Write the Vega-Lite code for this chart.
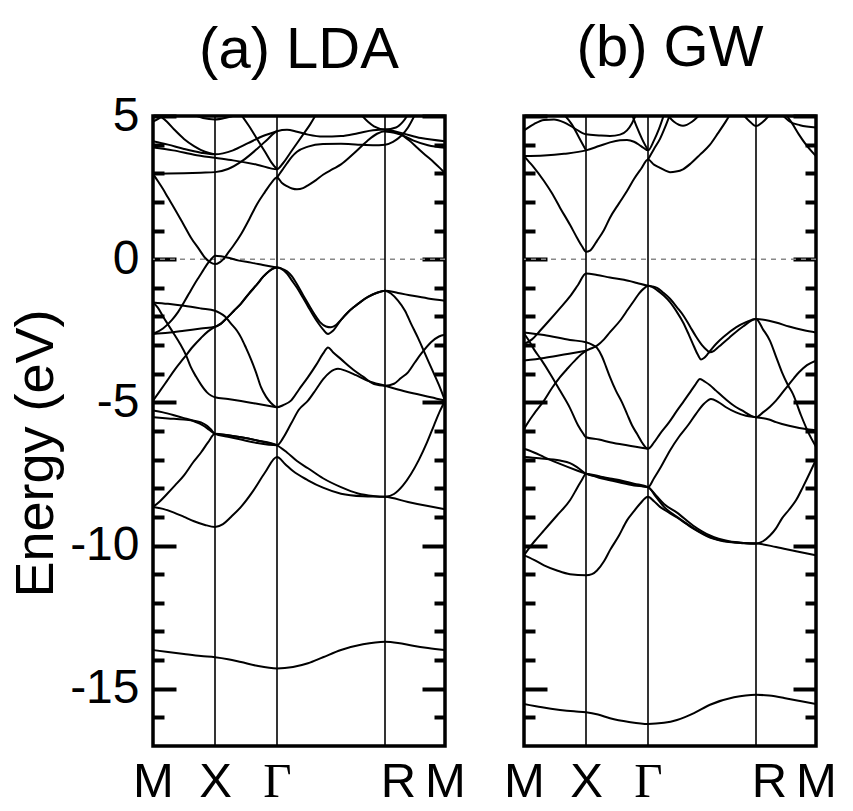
{
"$schema": "https://vega.github.io/schema/vega-lite/v6.json",
"background": "white",
"padding": {"left": 7, "top": 18, "right": 10, "bottom": 5},
"datasets": {
"sym": [{"k": 62}, {"k": 124}, {"k": 232}],
"lda": [
{"b":"core","k":0,"e":-13.65},{"b":"core","k":15,"e":-13.72},{"b":"core","k":31,"e":-13.79},{"b":"core","k":48,"e":-13.86},{"b":"core","k":62,"e":-13.9},{"b":"core","k":75,"e":-13.97},{"b":"core","k":88,"e":-14.07},{"b":"core","k":104,"e":-14.2},{"b":"core","k":124,"e":-14.29},{"b":"core","k":140,"e":-14.24},{"b":"core","k":155,"e":-14.11},{"b":"core","k":170,"e":-13.9},{"b":"core","k":188,"e":-13.65},{"b":"core","k":210,"e":-13.45},{"b":"core","k":232,"e":-13.36},{"b":"core","k":245,"e":-13.4},{"b":"core","k":260,"e":-13.5},{"b":"core","k":275,"e":-13.58},{"b":"core","k":292,"e":-13.65},
{"b":"P2","k":0,"e":-8.65},{"b":"P2","k":10,"e":-8.72},{"b":"P2","k":21,"e":-8.85},{"b":"P2","k":31,"e":-9.0},{"b":"P2","k":41,"e":-9.15},{"b":"P2","k":52,"e":-9.28},{"b":"P2","k":62,"e":-9.35},{"b":"P2","k":70,"e":-9.25},{"b":"P2","k":78,"e":-9.0},{"b":"P2","k":88,"e":-8.65},{"b":"P2","k":100,"e":-8.1},{"b":"P2","k":112,"e":-7.45},{"b":"P2","k":124,"e":-6.91},{"b":"P2","k":132,"e":-7.15},{"b":"P2","k":140,"e":-7.4},{"b":"P2","k":155,"e":-7.72},{"b":"P2","k":170,"e":-7.98},{"b":"P2","k":188,"e":-8.19},{"b":"P2","k":210,"e":-8.28},{"b":"P2","k":232,"e":-8.3},{"b":"P2","k":255,"e":-8.48},{"b":"P2","k":275,"e":-8.62},{"b":"P2","k":292,"e":-8.73},
{"b":"P3","k":0,"e":-8.65},{"b":"P3","k":7,"e":-8.45},{"b":"P3","k":14,"e":-8.2},{"b":"P3","k":22,"e":-7.9},{"b":"P3","k":31,"e":-7.55},{"b":"P3","k":40,"e":-7.1},{"b":"P3","k":48,"e":-6.75},{"b":"P3","k":55,"e":-6.4},{"b":"P3","k":62,"e":-6.1},{"b":"P3","k":75,"e":-6.15},{"b":"P3","k":88,"e":-6.22},{"b":"P3","k":104,"e":-6.33},{"b":"P3","k":124,"e":-6.5},{"b":"P3","k":134,"e":-6.75},{"b":"P3","k":144,"e":-7.05},{"b":"P3","k":155,"e":-7.3},{"b":"P3","k":170,"e":-7.65},{"b":"P3","k":188,"e":-7.96},{"b":"P3","k":205,"e":-8.18},{"b":"P3","k":220,"e":-8.27},{"b":"P3","k":232,"e":-8.3},{"b":"P3","k":241,"e":-8.2},{"b":"P3","k":250,"e":-7.9},{"b":"P3","k":258,"e":-7.5},{"b":"P3","k":266,"e":-7.0},{"b":"P3","k":274,"e":-6.4},{"b":"P3","k":281,"e":-5.8},{"b":"P3","k":287,"e":-5.3},{"b":"P3","k":292,"e":-4.94},
{"b":"P4","k":0,"e":-5.28},{"b":"P4","k":10,"e":-5.35},{"b":"P4","k":21,"e":-5.45},{"b":"P4","k":31,"e":-5.55},{"b":"P4","k":41,"e":-5.66},{"b":"P4","k":50,"e":-5.8},{"b":"P4","k":56,"e":-5.95},{"b":"P4","k":62,"e":-6.1},{"b":"P4","k":75,"e":-6.2},{"b":"P4","k":88,"e":-6.3},{"b":"P4","k":104,"e":-6.42},{"b":"P4","k":124,"e":-6.5},{"b":"P4","k":130,"e":-6.25},{"b":"P4","k":138,"e":-5.75},{"b":"P4","k":146,"e":-5.25},{"b":"P4","k":155,"e":-4.94},{"b":"P4","k":163,"e":-4.55},{"b":"P4","k":170,"e":-4.2},{"b":"P4","k":177,"e":-3.95},{"b":"P4","k":185,"e":-3.83},{"b":"P4","k":193,"e":-3.9},{"b":"P4","k":203,"e":-4.05},{"b":"P4","k":215,"e":-4.25},{"b":"P4","k":232,"e":-4.42},{"b":"P4","k":245,"e":-4.55},{"b":"P4","k":260,"e":-4.68},{"b":"P4","k":278,"e":-4.82},{"b":"P4","k":292,"e":-4.94},
{"b":"P5","k":0,"e":-5.52},{"b":"P5","k":15,"e":-5.56},{"b":"P5","k":31,"e":-5.6},{"b":"P5","k":41,"e":-5.64},{"b":"P5","k":48,"e":-5.7},{"b":"P5","k":54,"e":-5.82},{"b":"P5","k":58,"e":-5.95},{"b":"P5","k":62,"e":-6.1},{"b":"P5","k":75,"e":-6.15},{"b":"P5","k":88,"e":-6.22},{"b":"P5","k":104,"e":-6.33},{"b":"P5","k":124,"e":-6.5},
{"b":"P6","k":0,"e":-4.94},{"b":"P6","k":7,"e":-4.6},{"b":"P6","k":14,"e":-4.25},{"b":"P6","k":22,"e":-3.85},{"b":"P6","k":31,"e":-3.45},{"b":"P6","k":40,"e":-3.05},{"b":"P6","k":48,"e":-2.75},{"b":"P6","k":55,"e":-2.52},{"b":"P6","k":62,"e":-2.36},{"b":"P6","k":68,"e":-2.25},{"b":"P6","k":74,"e":-2.05},{"b":"P6","k":81,"e":-1.8},{"b":"P6","k":88,"e":-1.55},{"b":"P6","k":96,"e":-1.2},{"b":"P6","k":104,"e":-0.88},{"b":"P6","k":110,"e":-0.62},{"b":"P6","k":116,"e":-0.42},{"b":"P6","k":120,"e":-0.33},{"b":"P6","k":124,"e":-0.29},{"b":"P6","k":128,"e":-0.33},{"b":"P6","k":134,"e":-0.5},{"b":"P6","k":139,"e":-0.75},{"b":"P6","k":144,"e":-1.0},{"b":"P6","k":150,"e":-1.35},{"b":"P6","k":155,"e":-1.65},{"b":"P6","k":160,"e":-1.95},{"b":"P6","k":165,"e":-2.22},{"b":"P6","k":170,"e":-2.45},{"b":"P6","k":175,"e":-2.61},{"b":"P6","k":180,"e":-2.5},{"b":"P6","k":188,"e":-2.12},{"b":"P6","k":195,"e":-1.85},{"b":"P6","k":201,"e":-1.67},{"b":"P6","k":208,"e":-1.48},{"b":"P6","k":215,"e":-1.32},{"b":"P6","k":224,"e":-1.17},{"b":"P6","k":232,"e":-1.1},{"b":"P6","k":245,"e":-1.18},{"b":"P6","k":260,"e":-1.28},{"b":"P6","k":275,"e":-1.37},{"b":"P6","k":292,"e":-1.45},
{"b":"P7","k":0,"e":-2.61},{"b":"P7","k":15,"e":-2.57},{"b":"P7","k":31,"e":-2.5},{"b":"P7","k":48,"e":-2.42},{"b":"P7","k":62,"e":-2.36},{"b":"P7","k":68,"e":-2.25},{"b":"P7","k":74,"e":-2.05},{"b":"P7","k":81,"e":-1.8},{"b":"P7","k":88,"e":-1.55},{"b":"P7","k":96,"e":-1.2},{"b":"P7","k":104,"e":-0.88},{"b":"P7","k":110,"e":-0.62},{"b":"P7","k":116,"e":-0.42},{"b":"P7","k":120,"e":-0.33},{"b":"P7","k":124,"e":-0.29},{"b":"P7","k":128,"e":-0.32},{"b":"P7","k":134,"e":-0.42},{"b":"P7","k":139,"e":-0.6},{"b":"P7","k":144,"e":-0.88},{"b":"P7","k":150,"e":-1.25},{"b":"P7","k":155,"e":-1.55},{"b":"P7","k":161,"e":-1.9},{"b":"P7","k":167,"e":-2.2},{"b":"P7","k":173,"e":-2.35},{"b":"P7","k":178,"e":-2.38},{"b":"P7","k":183,"e":-2.3},{"b":"P7","k":188,"e":-2.12},{"b":"P7","k":195,"e":-1.85},{"b":"P7","k":201,"e":-1.67},{"b":"P7","k":208,"e":-1.48},{"b":"P7","k":215,"e":-1.32},{"b":"P7","k":224,"e":-1.17},{"b":"P7","k":232,"e":-1.1},{"b":"P7","k":238,"e":-1.2},{"b":"P7","k":245,"e":-1.45},{"b":"P7","k":252,"e":-1.8},{"b":"P7","k":258,"e":-2.25},{"b":"P7","k":265,"e":-2.75},{"b":"P7","k":272,"e":-3.3},{"b":"P7","k":279,"e":-3.85},{"b":"P7","k":286,"e":-4.4},{"b":"P7","k":292,"e":-4.94},
{"b":"P8","k":0,"e":-1.51},{"b":"P8","k":15,"e":-1.56},{"b":"P8","k":31,"e":-1.63},{"b":"P8","k":48,"e":-1.72},{"b":"P8","k":62,"e":-1.8},{"b":"P8","k":67,"e":-1.88},{"b":"P8","k":72,"e":-2.0},{"b":"P8","k":78,"e":-2.25},{"b":"P8","k":84,"e":-2.5},{"b":"P8","k":88,"e":-2.73},{"b":"P8","k":93,"e":-3.1},{"b":"P8","k":98,"e":-3.5},{"b":"P8","k":103,"e":-3.95},{"b":"P8","k":108,"e":-4.47},{"b":"P8","k":113,"e":-4.8},{"b":"P8","k":118,"e":-5.02},{"b":"P8","k":124,"e":-5.17},{"b":"P8","k":130,"e":-5.1},{"b":"P8","k":138,"e":-4.94},{"b":"P8","k":146,"e":-4.55},{"b":"P8","k":155,"e":-4.12},{"b":"P8","k":163,"e":-3.7},{"b":"P8","k":170,"e":-3.3},{"b":"P8","k":175,"e":-3.08},{"b":"P8","k":180,"e":-3.25},{"b":"P8","k":188,"e":-3.49},{"b":"P8","k":200,"e":-3.85},{"b":"P8","k":210,"e":-4.1},{"b":"P8","k":221,"e":-4.36},{"b":"P8","k":232,"e":-4.42},{"b":"P8","k":241,"e":-4.35},{"b":"P8","k":248,"e":-4.15},{"b":"P8","k":255,"e":-3.95},{"b":"P8","k":262,"e":-3.6},{"b":"P8","k":268,"e":-3.31},{"b":"P8","k":278,"e":-2.9},{"b":"P8","k":286,"e":-2.7},{"b":"P8","k":292,"e":-2.64},
{"b":"P9","k":0,"e":-1.51},{"b":"P9","k":5,"e":-1.7},{"b":"P9","k":10,"e":-2.0},{"b":"P9","k":15,"e":-2.28},{"b":"P9","k":21,"e":-2.61},{"b":"P9","k":27,"e":-2.95},{"b":"P9","k":33,"e":-3.35},{"b":"P9","k":38,"e":-3.78},{"b":"P9","k":43,"e":-4.1},{"b":"P9","k":48,"e":-4.38},{"b":"P9","k":54,"e":-4.65},{"b":"P9","k":58,"e":-4.76},{"b":"P9","k":62,"e":-4.82},{"b":"P9","k":75,"e":-4.88},{"b":"P9","k":88,"e":-4.95},{"b":"P9","k":104,"e":-5.05},{"b":"P9","k":124,"e":-5.17},
{"b":"P10","k":0,"e":-2.61},{"b":"P10","k":10,"e":-2.42},{"b":"P10","k":19,"e":-2.12},{"b":"P10","k":25,"e":-1.85},{"b":"P10","k":31,"e":-1.5},{"b":"P10","k":36,"e":-1.2},{"b":"P10","k":41,"e":-0.9},{"b":"P10","k":46,"e":-0.62},{"b":"P10","k":50,"e":-0.4},{"b":"P10","k":54,"e":-0.18},{"b":"P10","k":58,"e":-0.01},{"b":"P10","k":62,"e":0.12},{"b":"P10","k":68,"e":0.1},{"b":"P10","k":74,"e":0.06},{"b":"P10","k":86,"e":-0.05},{"b":"P10","k":98,"e":-0.12},{"b":"P10","k":110,"e":-0.2},{"b":"P10","k":124,"e":-0.29},
{"b":"C1","k":0,"e":2.98},{"b":"C1","k":5,"e":2.72},{"b":"C1","k":10,"e":2.45},{"b":"C1","k":15,"e":2.15},{"b":"C1","k":21,"e":1.8},{"b":"C1","k":30,"e":1.25},{"b":"C1","k":38,"e":0.75},{"b":"C1","k":46,"e":0.35},{"b":"C1","k":52,"e":0.05},{"b":"C1","k":57,"e":-0.1},{"b":"C1","k":62,"e":-0.17},{"b":"C1","k":67,"e":-0.1},{"b":"C1","k":71,"e":0.02},{"b":"C1","k":74,"e":0.17},{"b":"C1","k":80,"e":0.45},{"b":"C1","k":88,"e":0.87},{"b":"C1","k":96,"e":1.38},{"b":"C1","k":104,"e":1.92},{"b":"C1","k":112,"e":2.35},{"b":"C1","k":118,"e":2.65},{"b":"C1","k":124,"e":2.85},{"b":"C1","k":129,"e":2.66},{"b":"C1","k":134,"e":2.55},{"b":"C1","k":139,"e":2.47},{"b":"C1","k":144,"e":2.44},{"b":"C1","k":150,"e":2.48},{"b":"C1","k":155,"e":2.58},{"b":"C1","k":163,"e":2.76},{"b":"C1","k":170,"e":2.95},{"b":"C1","k":180,"e":3.15},{"b":"C1","k":188,"e":3.31},{"b":"C1","k":201,"e":3.7},{"b":"C1","k":214,"e":4.12},{"b":"C1","k":224,"e":4.38},{"b":"C1","k":232,"e":4.47},{"b":"C1","k":240,"e":4.45},{"b":"C1","k":248,"e":4.35},{"b":"C1","k":256,"e":4.15},{"b":"C1","k":264,"e":3.9},{"b":"C1","k":272,"e":3.65},{"b":"C1","k":281,"e":3.38},{"b":"C1","k":287,"e":3.18},{"b":"C1","k":292,"e":3.0},
{"b":"C2","k":0,"e":2.98},{"b":"C2","k":15,"e":2.99},{"b":"C2","k":31,"e":3.0},{"b":"C2","k":48,"e":3.02},{"b":"C2","k":62,"e":3.04},{"b":"C2","k":75,"e":3.15},{"b":"C2","k":90,"e":3.45},{"b":"C2","k":104,"e":3.85},{"b":"C2","k":115,"e":4.2},{"b":"C2","k":124,"e":4.47},{"b":"C2","k":134,"e":4.52},{"b":"C2","k":144,"e":4.45},{"b":"C2","k":155,"e":4.35},{"b":"C2","k":170,"e":4.28},{"b":"C2","k":188,"e":4.3},{"b":"C2","k":205,"e":4.4},{"b":"C2","k":220,"e":4.5},{"b":"C2","k":232,"e":4.53},{"b":"C2","k":248,"e":4.41},{"b":"C2","k":268,"e":4.23},{"b":"C2","k":292,"e":4.12},
{"b":"C3","k":124,"e":2.85},{"b":"C3","k":129,"e":3.1},{"b":"C3","k":134,"e":3.35},{"b":"C3","k":139,"e":3.58},{"b":"C3","k":144,"e":3.75},{"b":"C3","k":155,"e":3.93},{"b":"C3","k":170,"e":4.02},{"b":"C3","k":188,"e":4.03},{"b":"C3","k":205,"e":4.0},{"b":"C3","k":220,"e":3.98},{"b":"C3","k":232,"e":4.0},{"b":"C3","k":240,"e":4.1},{"b":"C3","k":248,"e":4.3},{"b":"C3","k":255,"e":4.6},{"b":"C3","k":262,"e":5.05},
{"b":"C4","k":0,"e":3.9},{"b":"C4","k":20,"e":3.8},{"b":"C4","k":41,"e":3.65},{"b":"C4","k":62,"e":3.54},{"b":"C4","k":80,"e":3.45},{"b":"C4","k":104,"e":3.3},{"b":"C4","k":124,"e":3.14},{"b":"C4","k":130,"e":3.35},{"b":"C4","k":137,"e":3.7},{"b":"C4","k":144,"e":4.05},{"b":"C4","k":150,"e":4.35},{"b":"C4","k":157,"e":4.7},{"b":"C4","k":163,"e":5.05},
{"b":"C5","k":88,"e":5.05},{"b":"C5","k":96,"e":4.65},{"b":"C5","k":104,"e":4.2},{"b":"C5","k":112,"e":3.75},{"b":"C5","k":118,"e":3.4},{"b":"C5","k":124,"e":3.14},
{"b":"C6","k":0,"e":4.12},{"b":"C6","k":15,"e":4.0},{"b":"C6","k":31,"e":3.85},{"b":"C6","k":48,"e":3.72},{"b":"C6","k":62,"e":3.66},{"b":"C6","k":80,"e":3.8},{"b":"C6","k":95,"e":4.05},{"b":"C6","k":110,"e":4.3},{"b":"C6","k":124,"e":4.47},
{"b":"C7","k":5,"e":5.05},{"b":"C7","k":14,"e":4.8},{"b":"C7","k":22,"e":4.5},{"b":"C7","k":31,"e":4.2},{"b":"C7","k":41,"e":3.95},{"b":"C7","k":52,"e":3.75},{"b":"C7","k":62,"e":3.66},
{"b":"C8","k":0,"e":4.8},{"b":"C8","k":6,"e":4.92},{"b":"C8","k":12,"e":5.05},
{"b":"C9","k":208,"e":5.05},{"b":"C9","k":215,"e":4.8},{"b":"C9","k":221,"e":4.64},{"b":"C9","k":232,"e":4.53},{"b":"C9","k":243,"e":4.6},{"b":"C9","k":250,"e":4.8},{"b":"C9","k":255,"e":5.05},
{"b":"C10","k":232,"e":4.47},{"b":"C10","k":248,"e":4.35},{"b":"C10","k":260,"e":4.15},{"b":"C10","k":275,"e":3.98},{"b":"C10","k":292,"e":3.89},
{"b":"C11","k":40,"e":5.05},{"b":"C11","k":50,"e":4.93},{"b":"C11","k":62,"e":4.88},{"b":"C11","k":74,"e":4.95},{"b":"C11","k":85,"e":5.05}
],
"gw": [
{"b":"core","k":0,"e":-15.53},{"b":"core","k":18,"e":-15.65},{"b":"core","k":36,"e":-15.74},{"b":"core","k":50,"e":-15.79},{"b":"core","k":62,"e":-15.82},{"b":"core","k":74,"e":-15.9},{"b":"core","k":86,"e":-16.03},{"b":"core","k":105,"e":-16.16},{"b":"core","k":124,"e":-16.23},{"b":"core","k":140,"e":-16.19},{"b":"core","k":153,"e":-16.09},{"b":"core","k":170,"e":-15.85},{"b":"core","k":186,"e":-15.56},{"b":"core","k":210,"e":-15.3},{"b":"core","k":232,"e":-15.21},{"b":"core","k":245,"e":-15.24},{"b":"core","k":260,"e":-15.32},{"b":"core","k":276,"e":-15.43},{"b":"core","k":292,"e":-15.53},
{"b":"G2","k":0,"e":-10.34},{"b":"G2","k":10,"e":-10.5},{"b":"G2","k":20,"e":-10.69},{"b":"G2","k":33,"e":-10.87},{"b":"G2","k":46,"e":-11.0},{"b":"G2","k":62,"e":-11.04},{"b":"G2","k":68,"e":-11.0},{"b":"G2","k":73,"e":-10.87},{"b":"G2","k":80,"e":-10.55},{"b":"G2","k":86,"e":-10.16},{"b":"G2","k":95,"e":-9.65},{"b":"G2","k":103,"e":-9.12},{"b":"G2","k":110,"e":-8.8},{"b":"G2","k":116,"e":-8.54},{"b":"G2","k":124,"e":-8.3},{"b":"G2","k":130,"e":-8.45},{"b":"G2","k":136,"e":-8.65},{"b":"G2","k":145,"e":-8.85},{"b":"G2","k":153,"e":-9.02},{"b":"G2","k":169,"e":-9.4},{"b":"G2","k":186,"e":-9.72},{"b":"G2","k":205,"e":-9.88},{"b":"G2","k":220,"e":-9.92},{"b":"G2","k":232,"e":-9.93},{"b":"G2","k":252,"e":-10.05},{"b":"G2","k":272,"e":-10.2},{"b":"G2","k":292,"e":-10.34},
{"b":"G3","k":0,"e":-10.34},{"b":"G3","k":7,"e":-10.0},{"b":"G3","k":13,"e":-9.75},{"b":"G3","k":20,"e":-9.47},{"b":"G3","k":33,"e":-8.95},{"b":"G3","k":46,"e":-8.42},{"b":"G3","k":53,"e":-8.0},{"b":"G3","k":58,"e":-7.7},{"b":"G3","k":62,"e":-7.49},{"b":"G3","k":75,"e":-7.58},{"b":"G3","k":86,"e":-7.66},{"b":"G3","k":96,"e":-7.72},{"b":"G3","k":110,"e":-7.84},{"b":"G3","k":124,"e":-7.96},{"b":"G3","k":132,"e":-8.25},{"b":"G3","k":140,"e":-8.55},{"b":"G3","k":153,"e":-8.85},{"b":"G3","k":169,"e":-9.3},{"b":"G3","k":186,"e":-9.65},{"b":"G3","k":205,"e":-9.85},{"b":"G3","k":220,"e":-9.91},{"b":"G3","k":232,"e":-9.93},{"b":"G3","k":239,"e":-9.85},{"b":"G3","k":246,"e":-9.65},{"b":"G3","k":252,"e":-9.4},{"b":"G3","k":258,"e":-9.05},{"b":"G3","k":265,"e":-8.75},{"b":"G3","k":272,"e":-8.42},{"b":"G3","k":279,"e":-7.95},{"b":"G3","k":286,"e":-7.45},{"b":"G3","k":292,"e":-7.0},
{"b":"G4","k":0,"e":-6.91},{"b":"G4","k":15,"e":-6.95},{"b":"G4","k":36,"e":-7.03},{"b":"G4","k":46,"e":-7.12},{"b":"G4","k":53,"e":-7.26},{"b":"G4","k":62,"e":-7.49},{"b":"G4","k":75,"e":-7.6},{"b":"G4","k":86,"e":-7.68},{"b":"G4","k":96,"e":-7.75},{"b":"G4","k":110,"e":-7.86},{"b":"G4","k":124,"e":-7.96},{"b":"G4","k":130,"e":-7.65},{"b":"G4","k":137,"e":-7.25},{"b":"G4","k":146,"e":-6.68},{"b":"G4","k":155,"e":-6.2},{"b":"G4","k":164,"e":-5.8},{"b":"G4","k":172,"e":-5.4},{"b":"G4","k":180,"e":-5.05},{"b":"G4","k":187,"e":-4.88},{"b":"G4","k":194,"e":-4.98},{"b":"G4","k":202,"e":-5.17},{"b":"G4","k":212,"e":-5.35},{"b":"G4","k":222,"e":-5.47},{"b":"G4","k":232,"e":-5.52},{"b":"G4","k":245,"e":-5.6},{"b":"G4","k":252,"e":-5.69},{"b":"G4","k":265,"e":-5.82},{"b":"G4","k":285,"e":-5.95},{"b":"G4","k":292,"e":-5.97},
{"b":"G5","k":0,"e":-6.62},{"b":"G5","k":10,"e":-6.75},{"b":"G5","k":20,"e":-6.91},{"b":"G5","k":36,"e":-7.15},{"b":"G5","k":53,"e":-7.38},{"b":"G5","k":62,"e":-7.49},{"b":"G5","k":75,"e":-7.63},{"b":"G5","k":86,"e":-7.72},{"b":"G5","k":96,"e":-7.8},{"b":"G5","k":110,"e":-7.9},{"b":"G5","k":124,"e":-7.96},{"b":"G5","k":132,"e":-8.3},{"b":"G5","k":140,"e":-8.65},{"b":"G5","k":153,"e":-9.0},{"b":"G5","k":169,"e":-9.38},{"b":"G5","k":186,"e":-9.7},{"b":"G5","k":205,"e":-9.87},{"b":"G5","k":232,"e":-9.93},
{"b":"G6","k":0,"e":-5.93},{"b":"G6","k":5,"e":-5.65},{"b":"G6","k":10,"e":-5.4},{"b":"G6","k":20,"e":-4.94},{"b":"G6","k":28,"e":-4.5},{"b":"G6","k":36,"e":-4.12},{"b":"G6","k":44,"e":-3.8},{"b":"G6","k":52,"e":-3.5},{"b":"G6","k":57,"e":-3.33},{"b":"G6","k":62,"e":-3.2},{"b":"G6","k":67,"e":-3.12},{"b":"G6","k":73,"e":-3.02},{"b":"G6","k":80,"e":-2.8},{"b":"G6","k":86,"e":-2.55},{"b":"G6","k":96,"e":-2.15},{"b":"G6","k":104,"e":-1.75},{"b":"G6","k":110,"e":-1.45},{"b":"G6","k":115,"e":-1.2},{"b":"G6","k":120,"e":-1.02},{"b":"G6","k":124,"e":-0.93},{"b":"G6","k":128,"e":-0.97},{"b":"G6","k":133,"e":-1.08},{"b":"G6","k":140,"e":-1.28},{"b":"G6","k":146,"e":-1.5},{"b":"G6","k":153,"e":-1.85},{"b":"G6","k":159,"e":-2.2},{"b":"G6","k":165,"e":-2.65},{"b":"G6","k":170,"e":-3.05},{"b":"G6","k":174,"e":-3.35},{"b":"G6","k":177,"e":-3.5},{"b":"G6","k":180,"e":-3.45},{"b":"G6","k":184,"e":-3.3},{"b":"G6","k":188,"e":-3.12},{"b":"G6","k":192,"e":-2.96},{"b":"G6","k":200,"e":-2.7},{"b":"G6","k":212,"e":-2.38},{"b":"G6","k":222,"e":-2.2},{"b":"G6","k":232,"e":-2.09},{"b":"G6","k":245,"e":-2.15},{"b":"G6","k":252,"e":-2.21},{"b":"G6","k":265,"e":-2.35},{"b":"G6","k":280,"e":-2.48},{"b":"G6","k":292,"e":-2.56},
{"b":"G7","k":0,"e":-2.56},{"b":"G7","k":20,"e":-2.65},{"b":"G7","k":46,"e":-2.82},{"b":"G7","k":62,"e":-2.9},{"b":"G7","k":68,"e":-2.98},{"b":"G7","k":73,"e":-3.1},{"b":"G7","k":78,"e":-3.4},{"b":"G7","k":82,"e":-3.75},{"b":"G7","k":86,"e":-4.12},{"b":"G7","k":92,"e":-4.6},{"b":"G7","k":98,"e":-5.0},{"b":"G7","k":103,"e":-5.4},{"b":"G7","k":108,"e":-5.8},{"b":"G7","k":113,"e":-6.1},{"b":"G7","k":118,"e":-6.4},{"b":"G7","k":124,"e":-6.62},{"b":"G7","k":130,"e":-6.4},{"b":"G7","k":136,"e":-6.1},{"b":"G7","k":145,"e":-5.7},{"b":"G7","k":153,"e":-5.29},{"b":"G7","k":160,"e":-4.95},{"b":"G7","k":166,"e":-4.65},{"b":"G7","k":171,"e":-4.4},{"b":"G7","k":176,"e":-4.18},{"b":"G7","k":181,"e":-4.28},{"b":"G7","k":186,"e":-4.4},{"b":"G7","k":192,"e":-4.59},{"b":"G7","k":202,"e":-4.9},{"b":"G7","k":210,"e":-5.12},{"b":"G7","k":219,"e":-5.3},{"b":"G7","k":226,"e":-5.45},{"b":"G7","k":232,"e":-5.52},{"b":"G7","k":239,"e":-5.35},{"b":"G7","k":246,"e":-5.15},{"b":"G7","k":252,"e":-4.94},{"b":"G7","k":262,"e":-4.5},{"b":"G7","k":270,"e":-4.15},{"b":"G7","k":275,"e":-3.95},{"b":"G7","k":283,"e":-3.7},{"b":"G7","k":292,"e":-3.54},
{"b":"G8","k":0,"e":-2.6},{"b":"G8","k":5,"e":-2.85},{"b":"G8","k":10,"e":-3.15},{"b":"G8","k":17,"e":-3.5},{"b":"G8","k":27,"e":-4.05},{"b":"G8","k":36,"e":-4.59},{"b":"G8","k":46,"e":-5.2},{"b":"G8","k":54,"e":-5.8},{"b":"G8","k":59,"e":-6.08},{"b":"G8","k":62,"e":-6.22},{"b":"G8","k":75,"e":-6.3},{"b":"G8","k":86,"e":-6.39},{"b":"G8","k":103,"e":-6.5},{"b":"G8","k":124,"e":-6.62},
{"b":"G9","k":0,"e":-3.54},{"b":"G9","k":20,"e":-3.45},{"b":"G9","k":40,"e":-3.33},{"b":"G9","k":55,"e":-3.24},{"b":"G9","k":62,"e":-3.2},
{"b":"G10","k":0,"e":-2.96},{"b":"G10","k":8,"e":-2.8},{"b":"G10","k":16,"e":-2.5},{"b":"G10","k":25,"e":-2.15},{"b":"G10","k":35,"e":-1.75},{"b":"G10","k":46,"e":-1.3},{"b":"G10","k":54,"e":-0.9},{"b":"G10","k":62,"e":-0.5},{"b":"G10","k":73,"e":-0.55},{"b":"G10","k":86,"e":-0.64},{"b":"G10","k":100,"e":-0.72},{"b":"G10","k":113,"e":-0.83},{"b":"G10","k":124,"e":-0.93},{"b":"G10","k":128,"e":-0.95},{"b":"G10","k":133,"e":-1.0},{"b":"G10","k":139,"e":-1.16},{"b":"G10","k":146,"e":-1.38},{"b":"G10","k":153,"e":-1.68},{"b":"G10","k":160,"e":-2.0},{"b":"G10","k":166,"e":-2.35},{"b":"G10","k":172,"e":-2.7},{"b":"G10","k":178,"e":-3.0},{"b":"G10","k":183,"e":-3.18},{"b":"G10","k":186,"e":-3.25},{"b":"G10","k":190,"e":-3.2},{"b":"G10","k":195,"e":-3.05},{"b":"G10","k":205,"e":-2.75},{"b":"G10","k":219,"e":-2.35},{"b":"G10","k":232,"e":-2.09},{"b":"G10","k":239,"e":-2.45},{"b":"G10","k":246,"e":-2.85},{"b":"G10","k":252,"e":-3.4},{"b":"G10","k":258,"e":-3.95},{"b":"G10","k":264,"e":-4.4},{"b":"G10","k":269,"e":-4.71},{"b":"G10","k":277,"e":-5.45},{"b":"G10","k":285,"e":-6.1},{"b":"G10","k":292,"e":-6.55},
{"b":"GC1","k":0,"e":3.6},{"b":"GC1","k":5,"e":3.4},{"b":"GC1","k":10,"e":3.2},{"b":"GC1","k":20,"e":2.73},{"b":"GC1","k":28,"e":2.3},{"b":"GC1","k":36,"e":1.8},{"b":"GC1","k":46,"e":1.2},{"b":"GC1","k":53,"e":0.75},{"b":"GC1","k":58,"e":0.45},{"b":"GC1","k":62,"e":0.26},{"b":"GC1","k":66,"e":0.3},{"b":"GC1","k":69,"e":0.42},{"b":"GC1","k":73,"e":0.64},{"b":"GC1","k":80,"e":1.02},{"b":"GC1","k":86,"e":1.45},{"b":"GC1","k":95,"e":1.95},{"b":"GC1","k":103,"e":2.38},{"b":"GC1","k":110,"e":2.8},{"b":"GC1","k":117,"e":3.15},{"b":"GC1","k":124,"e":3.48},{"b":"GC1","k":130,"e":3.3},{"b":"GC1","k":136,"e":3.19},{"b":"GC1","k":141,"e":3.1},{"b":"GC1","k":146,"e":3.04},{"b":"GC1","k":152,"e":3.06},{"b":"GC1","k":159,"e":3.14},{"b":"GC1","k":167,"e":3.35},{"b":"GC1","k":176,"e":3.65},{"b":"GC1","k":186,"e":4.0},{"b":"GC1","k":194,"e":4.4},{"b":"GC1","k":202,"e":4.82},{"b":"GC1","k":206,"e":5.05},
{"b":"GC2","k":124,"e":3.48},{"b":"GC2","k":130,"e":3.85},{"b":"GC2","k":136,"e":4.2},{"b":"GC2","k":141,"e":4.6},{"b":"GC2","k":146,"e":5.05},
{"b":"GC3","k":143,"e":5.05},{"b":"GC3","k":150,"e":4.8},{"b":"GC3","k":159,"e":4.66},{"b":"GC3","k":168,"e":4.8},{"b":"GC3","k":176,"e":5.05},
{"b":"GC4","k":0,"e":3.6},{"b":"GC4","k":20,"e":3.62},{"b":"GC4","k":40,"e":3.68},{"b":"GC4","k":62,"e":3.8},{"b":"GC4","k":75,"e":3.95},{"b":"GC4","k":86,"e":4.08},{"b":"GC4","k":96,"e":4.15},{"b":"GC4","k":103,"e":4.16},{"b":"GC4","k":110,"e":4.1},{"b":"GC4","k":117,"e":3.95},{"b":"GC4","k":124,"e":3.8},{"b":"GC4","k":130,"e":4.15},{"b":"GC4","k":135,"e":4.55},{"b":"GC4","k":140,"e":5.05},
{"b":"GC5","k":108,"e":5.05},{"b":"GC5","k":113,"e":4.6},{"b":"GC5","k":118,"e":4.2},{"b":"GC5","k":124,"e":3.8},
{"b":"GC6","k":0,"e":4.5},{"b":"GC6","k":10,"e":4.72},{"b":"GC6","k":20,"e":4.86},{"b":"GC6","k":30,"e":4.88},{"b":"GC6","k":40,"e":4.78},{"b":"GC6","k":50,"e":4.58},{"b":"GC6","k":62,"e":4.36},{"b":"GC6","k":75,"e":4.32},{"b":"GC6","k":86,"e":4.3},{"b":"GC6","k":96,"e":4.35},{"b":"GC6","k":103,"e":4.5},{"b":"GC6","k":108,"e":4.75},{"b":"GC6","k":112,"e":5.05},
{"b":"GC7","k":40,"e":5.05},{"b":"GC7","k":48,"e":4.7},{"b":"GC7","k":55,"e":4.25},{"b":"GC7","k":62,"e":3.8},
{"b":"GC8","k":219,"e":5.05},{"b":"GC8","k":226,"e":4.8},{"b":"GC8","k":232,"e":4.65},{"b":"GC8","k":239,"e":4.8},{"b":"GC8","k":246,"e":5.05},
{"b":"GC9","k":258,"e":5.05},{"b":"GC9","k":266,"e":4.8},{"b":"GC9","k":276,"e":4.68},{"b":"GC9","k":292,"e":4.6},
{"b":"GC10","k":262,"e":5.05},{"b":"GC10","k":268,"e":4.75},{"b":"GC10","k":275,"e":4.35},{"b":"GC10","k":282,"e":4.0},{"b":"GC10","k":292,"e":3.6}
]
},
"hconcat": [
{
"width": 292, "height": 630,
"title": {"text": "(a) LDA", "offset": 12},
"layer": [
{"data": {"values": [{}]},
 "mark": {"type": "rule", "color": "#888888", "strokeDash": [5, 5], "strokeWidth": 1.5},
 "encoding": {"y": {"datum": 0, "type": "quantitative", "scale": {"domain": [-17, 5], "nice": false, "zero": false},
   "axis": {"orient": "left", "values": [-16,-14,-13,-12,-11,-9,-8,-7,-6,-4,-3,-2,-1,1,2,3,4], "tickSize": 11, "offset": -11, "tickWidth": 4, "tickColor": "black", "labels": false, "domain": false, "grid": false, "title": null}}}},
{"data": {"name": "sym"},
 "mark": {"type": "rule", "color": "black", "strokeWidth": 1.6},
 "encoding": {
   "x": {"field": "k", "type": "quantitative", "scale": {"domain": [0, 292], "nice": false, "zero": false},
     "axis": {"values": [0, 62, 124, 232, 292], "labelExpr": "datum.value == 0 ? 'M' : datum.value == 62 ? 'X' : datum.value == 124 ? 'Γ' : datum.value == 232 ? 'R' : 'M'", "ticks": false, "domain": false, "grid": false, "title": null, "labelFontSize": 49, "labelFont": {"condition": {"test": "datum.value == 124", "value": "Liberation Serif"}, "value": "Liberation Sans"}, "labelColor": "black", "labelPadding": 11, "labelFlush": false, "labelOverlap": false, "labelOffset": {"condition": {"test": "datum.value == 232", "value": 13}, "value": 0}}},
   "y": {"datum": -17, "type": "quantitative", "scale": {"domain": [-17, 5], "nice": false, "zero": false},
     "axis": {"orient": "right", "values": [-16,-14,-13,-12,-11,-9,-8,-7,-6,-4,-3,-2,-1,1,2,3,4], "tickSize": 11, "offset": -11, "tickWidth": 4, "tickColor": "black", "labels": false, "domain": false, "grid": false, "title": null}},
   "y2": {"datum": 5}}},
{"data": {"name": "lda"},
 "transform": [{"filter": "datum.b == 'core'"}],
 "mark": {"type": "line", "color": "black", "strokeWidth": 2, "interpolate": "monotone", "clip": true},
 "encoding": {
   "x": {"field": "k", "type": "quantitative", "scale": {"domain": [0, 292], "nice": false, "zero": false},
     "axis": {"values": [0, 62, 124, 232, 292], "labelExpr": "datum.value == 0 ? 'M' : datum.value == 62 ? 'X' : datum.value == 124 ? 'Γ' : datum.value == 232 ? 'R' : 'M'", "ticks": false, "domain": false, "grid": false, "title": null, "labelFontSize": 49, "labelFont": {"condition": {"test": "datum.value == 124", "value": "Liberation Serif"}, "value": "Liberation Sans"}, "labelColor": "black", "labelPadding": 11, "labelFlush": false, "labelOverlap": false, "labelOffset": {"condition": {"test": "datum.value == 232", "value": 13}, "value": 0}}},
   "y": {"field": "e", "type": "quantitative", "scale": {"domain": [-17, 5], "nice": false, "zero": false},
     "axis": {"orient": "right", "values": [-15, -10, -5, 0, 5], "tickSize": 23, "offset": -23, "tickWidth": 4, "tickColor": "black", "labels": false, "domain": false, "grid": false, "title": null}},
   "detail": {"field": "b"}}},
{"data": {"name": "lda"},
 "transform": [{"filter": "datum.b != 'core'"}],
 "mark": {"type": "line", "color": "black", "strokeWidth": 2, "interpolate": "monotone", "clip": true},
 "encoding": {
   "x": {"field": "k", "type": "quantitative", "scale": {"domain": [0, 292], "nice": false, "zero": false},
     "axis": {"values": [0, 62, 124, 232, 292], "labelExpr": "datum.value == 0 ? 'M' : datum.value == 62 ? 'X' : datum.value == 124 ? 'Γ' : datum.value == 232 ? 'R' : 'M'", "ticks": false, "domain": false, "grid": false, "title": null, "labelFontSize": 49, "labelFont": {"condition": {"test": "datum.value == 124", "value": "Liberation Serif"}, "value": "Liberation Sans"}, "labelColor": "black", "labelPadding": 11, "labelFlush": false, "labelOverlap": false, "labelOffset": {"condition": {"test": "datum.value == 232", "value": 13}, "value": 0}}},
   "y": {"field": "e", "type": "quantitative", "scale": {"domain": [-17, 5], "nice": false, "zero": false},
     "axis": {"orient": "left", "values": [-15, -10, -5, 0, 5], "tickSize": 23, "offset": -23, "tickWidth": 4, "tickColor": "black", "labelExpr": "'' + datum.value", "labelFontSize": 48, "labelFont": "Liberation Sans", "labelColor": "black", "labelPadding": 14, "labelFlush": false, "labelOverlap": false, "domain": false, "grid": false, "title": "Energy (eV)", "titleFontSize": 54, "titleFont": "Liberation Sans", "titleFontWeight": "normal", "titleColor": "black", "titlePadding": 6, "titleY": 337}},
   "detail": {"field": "b"}}}
],
"resolve": {"axis": {"y": "independent"}}
},
{
"width": 292, "height": 630,
"title": {"text": "(b) GW", "offset": 36},
"layer": [
{"data": {"values": [{}]},
 "mark": {"type": "rule", "color": "#888888", "strokeDash": [5, 5], "strokeWidth": 1.5},
 "encoding": {"y": {"datum": 0, "type": "quantitative", "scale": {"domain": [-17, 5], "nice": false, "zero": false},
   "axis": {"orient": "left", "values": [-16,-14,-13,-12,-11,-9,-8,-7,-6,-4,-3,-2,-1,1,2,3,4], "tickSize": 11, "offset": -11, "tickWidth": 4, "tickColor": "black", "labels": false, "domain": false, "grid": false, "title": null}}}},
{"data": {"name": "sym"},
 "mark": {"type": "rule", "color": "black", "strokeWidth": 1.6},
 "encoding": {
   "x": {"field": "k", "type": "quantitative", "scale": {"domain": [0, 292], "nice": false, "zero": false},
     "axis": {"values": [0, 62, 124, 232, 292], "labelExpr": "datum.value == 0 ? 'M' : datum.value == 62 ? 'X' : datum.value == 124 ? 'Γ' : datum.value == 232 ? 'R' : 'M'", "ticks": false, "domain": false, "grid": false, "title": null, "labelFontSize": 49, "labelFont": {"condition": {"test": "datum.value == 124", "value": "Liberation Serif"}, "value": "Liberation Sans"}, "labelColor": "black", "labelPadding": 11, "labelFlush": false, "labelOverlap": false, "labelOffset": {"condition": {"test": "datum.value == 232", "value": 13}, "value": 0}}},
   "y": {"datum": -17, "type": "quantitative", "scale": {"domain": [-17, 5], "nice": false, "zero": false},
     "axis": {"orient": "right", "values": [-16,-14,-13,-12,-11,-9,-8,-7,-6,-4,-3,-2,-1,1,2,3,4], "tickSize": 11, "offset": -11, "tickWidth": 4, "tickColor": "black", "labels": false, "domain": false, "grid": false, "title": null}},
   "y2": {"datum": 5}}},
{"data": {"name": "gw"},
 "transform": [{"filter": "datum.b == 'core'"}],
 "mark": {"type": "line", "color": "black", "strokeWidth": 2, "interpolate": "monotone", "clip": true},
 "encoding": {
   "x": {"field": "k", "type": "quantitative", "scale": {"domain": [0, 292], "nice": false, "zero": false},
     "axis": {"values": [0, 62, 124, 232, 292], "labelExpr": "datum.value == 0 ? 'M' : datum.value == 62 ? 'X' : datum.value == 124 ? 'Γ' : datum.value == 232 ? 'R' : 'M'", "ticks": false, "domain": false, "grid": false, "title": null, "labelFontSize": 49, "labelFont": {"condition": {"test": "datum.value == 124", "value": "Liberation Serif"}, "value": "Liberation Sans"}, "labelColor": "black", "labelPadding": 11, "labelFlush": false, "labelOverlap": false, "labelOffset": {"condition": {"test": "datum.value == 232", "value": 13}, "value": 0}}},
   "y": {"field": "e", "type": "quantitative", "scale": {"domain": [-17, 5], "nice": false, "zero": false},
     "axis": {"orient": "right", "values": [-15, -10, -5, 0, 5], "tickSize": 23, "offset": -23, "tickWidth": 4, "tickColor": "black", "labels": false, "domain": false, "grid": false, "title": null}},
   "detail": {"field": "b"}}},
{"data": {"name": "gw"},
 "transform": [{"filter": "datum.b != 'core'"}],
 "mark": {"type": "line", "color": "black", "strokeWidth": 2, "interpolate": "monotone", "clip": true},
 "encoding": {
   "x": {"field": "k", "type": "quantitative", "scale": {"domain": [0, 292], "nice": false, "zero": false},
     "axis": {"values": [0, 62, 124, 232, 292], "labelExpr": "datum.value == 0 ? 'M' : datum.value == 62 ? 'X' : datum.value == 124 ? 'Γ' : datum.value == 232 ? 'R' : 'M'", "ticks": false, "domain": false, "grid": false, "title": null, "labelFontSize": 49, "labelFont": {"condition": {"test": "datum.value == 124", "value": "Liberation Serif"}, "value": "Liberation Sans"}, "labelColor": "black", "labelPadding": 11, "labelFlush": false, "labelOverlap": false, "labelOffset": {"condition": {"test": "datum.value == 232", "value": 13}, "value": 0}}},
   "y": {"field": "e", "type": "quantitative", "scale": {"domain": [-17, 5], "nice": false, "zero": false},
     "axis": {"orient": "left", "values": [-15, -10, -5, 0, 5], "tickSize": 23, "offset": -23, "tickWidth": 4, "tickColor": "black", "labels": false, "domain": false, "grid": false, "title": null}},
   "detail": {"field": "b"}}}
],
"resolve": {"axis": {"y": "independent"}}
}
],
"spacing": 79,
"bounds": "flush",
"config": {
  "view": {"stroke": "black", "strokeWidth": 3.5},
  "axis": {"grid": false},
  "title": {"fontSize": 58, "font": "Liberation Sans", "fontWeight": "normal", "color": "black", "anchor": "middle"}
}
}
